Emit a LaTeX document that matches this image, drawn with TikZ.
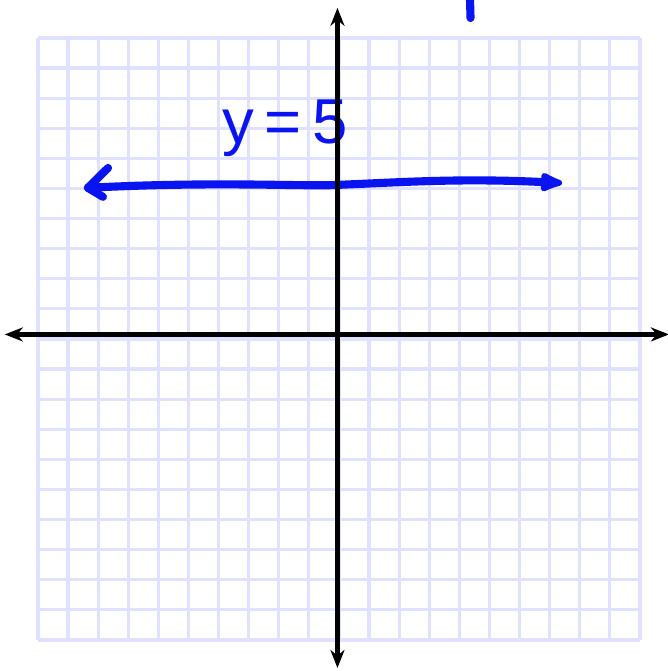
\documentclass[tikz,border=0pt]{standalone}
\usepackage{fontspec}
\newfontfamily\handfont{Liberation Sans}
\usepackage{xcolor}
\definecolor{gridlav}{HTML}{E0E0FF}
\definecolor{penblue}{HTML}{0A14F0}
\usepackage{tikz}
\usetikzlibrary{arrows.meta}
\tikzset{>={Stealth[length=3.6mm,width=2.8mm]},
  gridline/.style={draw=gridlav,line width=1.8pt},
  axis/.style={<->,line width=2.4pt,black},
  pen/.style={penblue,line width=4.6pt,line cap=round,line join=round},
  lbl/.style={font=\handfont\fontsize{36}{36}\selectfont,text=penblue,inner sep=0pt}}

\begin{document}
\begin{tikzpicture}[scale=0.6]
  \useasboundingbox (-11.26,-11.03) rectangle (10.9,11.26);
  \draw[gridline] (-10,-10) grid (10,10);
  % hand-drawn line y=5
  \coordinate (tipl) at (-8.34,5.02);
  \coordinate (barbu) at (-7.67,5.68);
  \coordinate (barbd) at (-7.84,4.72);
  \coordinate (mid) at (0,5.12);
  \coordinate (tipr) at (7.41,5.18);
  \draw[pen,-{Latex[length=6mm,width=4.6mm,round]}] (tipl) .. controls (-4,5.25) and (-1,5.05) .. (mid)
    .. controls (2,5.2) and (4,5.35) .. (tipr);
  \draw[pen] (barbu) -- (tipl) -- (barbd);
  \node[lbl] (eq) at (-1.79,7.0) {y\,=\,5};
  \coordinate (marka) at (4.35,11.4); \coordinate (markb) at (4.37,10.66);
  \draw[pen] (marka) -- (markb);
  % axes
  \coordinate (xl) at (-11.1,0.15); \coordinate (xr) at (10.96,0.15);
  \coordinate (yb) at (-0.05,-10.93); \coordinate (yt) at (-0.05,11.0);
  \draw[axis] (xl) -- (xr);
  \draw[axis] (yb) -- (yt);
\end{tikzpicture}
\end{document}
